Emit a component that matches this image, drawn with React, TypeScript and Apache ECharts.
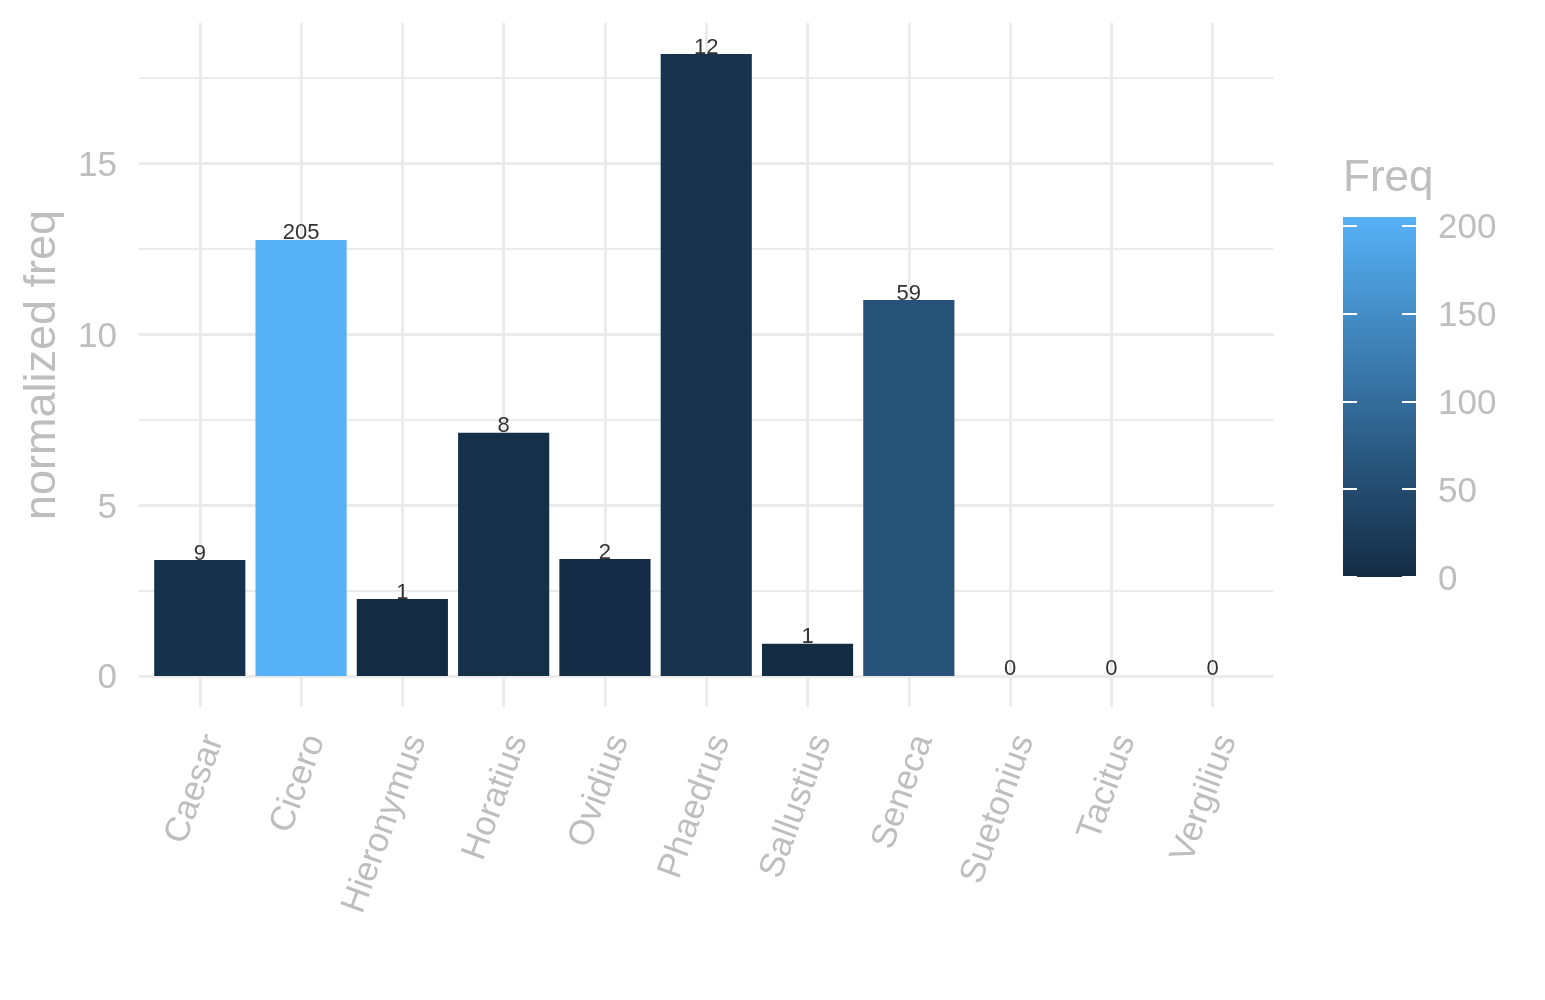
import * as echarts from 'echarts';
import { useEffect, useRef } from 'react';

const authors = [
  'Caesar',
  'Cicero',
  'Hieronymus',
  'Horatius',
  'Ovidius',
  'Phaedrus',
  'Sallustius',
  'Seneca',
  'Suetonius',
  'Tacitus',
  'Vergilius',
];
const normFreq = [3.39, 12.76, 2.25, 7.12, 3.42, 18.2, 0.94, 11.0, 0, 0, 0];
const freqs = [9, 205, 1, 8, 2, 12, 1, 59, 0, 0, 0];
const yTicks = [0, 5, 10, 15];
const yMinorTicks = [2.5, 7.5, 12.5, 17.5];
const freqTicks = [0, 50, 100, 150, 200];

const LOW = '#132B43';
const HIGH = '#56B1F7';
const GRID = '#EBEBEB';
const GREY = '#BEBEBE';
const FONT = 'Liberation Sans';

// ggplot panel box in px
const P_LEFT = 139;
const P_RIGHT = 1273.5;
const P_TOP = 23;
const P_BOTTOM = 707;
// colour bar box
const L_LEFT = 1343;
const L_WIDTH = 73;
const L_TOP = 217;
const L_BOTTOM = 577;

function App() {
  const chartRef = useRef<HTMLDivElement>(null);

  useEffect(() => {
    const chart = echarts.init(chartRef.current, null, { renderer: 'svg' });

    const topVal = Math.max(...normFreq);
    const yMin = -0.05 * topVal;
    const yMax = 1.05 * topVal;
    const yPx = (v: number) =>
      P_BOTTOM - ((v - yMin) * (P_BOTTOM - P_TOP)) / (yMax - yMin);
    const band = (P_RIGHT - P_LEFT) / (authors.length + 0.2);
    const maxFreq = Math.max(...freqs);
    const lastFreqTick = freqTicks[freqTicks.length - 1];
    const legendPx = (v: number) => L_BOTTOM - (v / maxFreq) * (L_BOTTOM - L_TOP);
    const minorMax = yMinorTicks[yMinorTicks.length - 1];
    const majorMax = yTicks[yTicks.length - 1];

    const hidden = { show: false };
    const noLine = { show: false, onZero: false };
    const tickAxis = (position: string) => ({
      gridIndex: 4,
      type: 'value',
      position,
      min: 0,
      max: lastFreqTick,
      interval: freqTicks[1] - freqTicks[0],
      z: 5,
      axisLine: noLine,
      axisTick: {
        show: true,
        inside: true,
        length: 14,
        lineStyle: { color: '#FFFFFF', width: 2 },
      },
      axisLabel: hidden,
      splitLine: hidden,
    });

    const option = {
      animation: false,
      textStyle: { fontFamily: FONT },
      title: {
        text: 'Freq',
        left: L_LEFT,
        top: 153,
        padding: 0,
        textStyle: { color: GREY, fontSize: 44, fontWeight: 'normal', fontFamily: FONT },
      },
      grid: [
        // bars
        {
          left: P_LEFT + 0.1 * band,
          width: band * authors.length,
          top: P_TOP,
          height: P_BOTTOM - P_TOP,
          outerBoundsMode: 'none',
        },
        // minor horizontal lines
        {
          left: P_LEFT,
          width: P_RIGHT - P_LEFT,
          top: yPx(minorMax),
          height: yPx(0) - yPx(minorMax),
          outerBoundsMode: 'none',
        },
        // major horizontal lines + labels
        {
          left: P_LEFT,
          width: P_RIGHT - P_LEFT,
          top: yPx(majorMax),
          height: yPx(0) - yPx(majorMax),
          outerBoundsMode: 'none',
        },
        // colour bar
        {
          left: L_LEFT,
          width: L_WIDTH,
          top: L_TOP,
          height: L_BOTTOM - L_TOP,
          outerBoundsMode: 'none',
        },
        // colour bar ticks
        {
          left: L_LEFT,
          width: L_WIDTH,
          top: legendPx(lastFreqTick),
          height: L_BOTTOM - legendPx(lastFreqTick),
          outerBoundsMode: 'none',
        },
      ],
      xAxis: [
        {
          gridIndex: 0,
          type: 'category',
          data: authors,
          axisLine: noLine,
          axisTick: {
            show: true,
            inside: true,
            alignWithLabel: true,
            length: P_BOTTOM - P_TOP,
            lineStyle: { color: GRID, width: 3 },
          },
          axisLabel: {
            interval: 0,
            rotate: 70,
            margin: 24,
            verticalAlign: 'top',
            lineHeight: 25,
            fontSize: 35,
            color: GREY,
            fontFamily: FONT,
          },
          splitLine: hidden,
        },
        { gridIndex: 1, type: 'category', data: ['-'], show: false },
        { gridIndex: 2, type: 'category', data: ['-'], show: false },
        { gridIndex: 3, type: 'category', data: ['Freq'], show: false },
        { gridIndex: 4, type: 'category', data: ['-'], show: false },
      ],
      yAxis: [
        {
          gridIndex: 0,
          type: 'value',
          min: yMin,
          max: yMax,
          name: 'normalized freq',
          nameLocation: 'middle',
          nameGap: 87,
          nameTextStyle: { color: GREY, fontSize: 45, fontFamily: FONT },
          axisLine: noLine,
          axisTick: hidden,
          axisLabel: hidden,
          splitLine: hidden,
        },
        {
          gridIndex: 1,
          type: 'value',
          min: 0,
          max: minorMax,
          interval: (yTicks[1] - yTicks[0]) / 2,
          axisLine: noLine,
          axisTick: hidden,
          axisLabel: hidden,
          splitLine: { show: true, lineStyle: { color: GRID, width: 2 } },
        },
        {
          gridIndex: 2,
          type: 'value',
          min: 0,
          max: majorMax,
          interval: yTicks[1] - yTicks[0],
          axisLine: noLine,
          axisTick: hidden,
          axisLabel: { margin: 22, fontSize: 35, color: GREY, fontFamily: FONT },
          splitLine: { show: true, lineStyle: { color: GRID, width: 3 } },
        },
        {
          gridIndex: 3,
          type: 'value',
          position: 'right',
          min: 0,
          max: maxFreq,
          interval: freqTicks[1] - freqTicks[0],
          axisLine: noLine,
          axisTick: hidden,
          axisLabel: {
            margin: 22,
            fontSize: 35,
            color: GREY,
            fontFamily: FONT,
            showMaxLabel: false,
          },
          splitLine: hidden,
        },
        tickAxis('right'),
        tickAxis('left'),
      ],
      visualMap: [
        {
          type: 'continuous',
          show: false,
          seriesIndex: 0,
          dimension: 2,
          min: 0,
          max: maxFreq,
          inRange: { color: [LOW, HIGH] },
        },
      ],
      series: [
        {
          type: 'bar',
          xAxisIndex: 0,
          yAxisIndex: 0,
          data: authors.map((a, i) => [a, normFreq[i], freqs[i]]),
          encode: { x: 0, y: 1 },
          barCategoryGap: '10%',
          label: {
            show: true,
            position: 'top',
            distance: -3,
            formatter: (p: any) => String(p.value[2]),
            color: '#333333',
            fontSize: 22,
            fontFamily: FONT,
          },
        },
        {
          type: 'bar',
          xAxisIndex: 3,
          yAxisIndex: 3,
          silent: true,
          data: [maxFreq],
          barWidth: '100%',
          itemStyle: {
            color: {
              type: 'linear',
              x: 0,
              y: 0,
              x2: 0,
              y2: 1,
              colorStops: [
                { offset: 0, color: HIGH },
                { offset: 1, color: LOW },
              ],
            },
          },
        },
      ],
    };

    chart.setOption(option);

    return () => {
      chart.dispose();
    };
  }, []);

  return (
    <div
      ref={chartRef}
      style={{ position: 'fixed', left: 0, top: 0, width: '1545px', height: '1000px' }}
    ></div>
  );
}

export default App;
